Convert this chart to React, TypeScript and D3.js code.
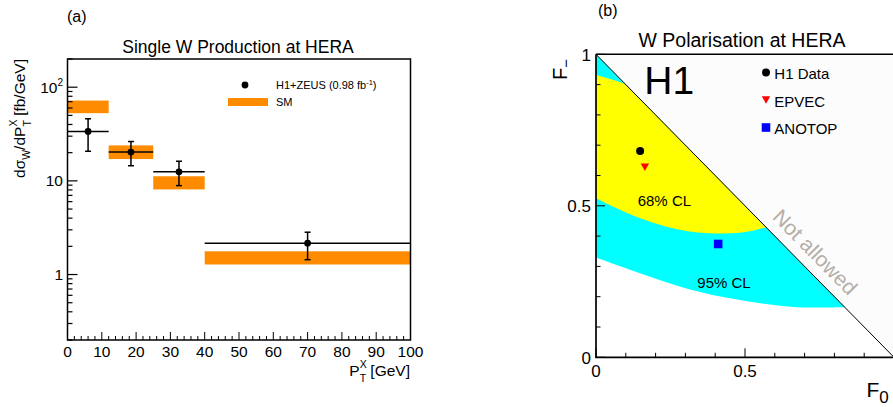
import React from 'react';
import * as d3 from 'd3';

// ---------- Panel (a): single W production ----------
const binLow = [0, 12, 25, 40];
const binHigh = [12, 25, 40, 100];
const binCentre = [6, 18.5, 32.5, 70];
const xsecData = [33.7, 20.3, 12.5, 2.16];
const xsecUp = [46, 26.3, 16.2, 2.83];
const xsecDown = [20.7, 14.5, 8.9, 1.44];
const smDown = [52.8, 17.1, 8.1, 1.28];
const smUp = [72, 23.9, 11.2, 1.77];
const ptMajorTicks = [0, 10, 20, 30, 40, 50, 60, 70, 80, 90, 100];
const xsecMajorTicks = [1, 10, 100];
const xsecTickLabels = ['1', '10', '10|2'];

// ---------- Panel (b): W polarisation ----------
const cl95F0 = [0, 0.148, 0.315, 0.483, 0.651, 0.83, 0.95];
const cl95Lower = [0.329, 0.277, 0.224, 0.189, 0.167, 0.165, 0.17];
const cl68F0 = [0, 0.148, 0.315, 0.483, 0.573, 0.65];
const cl68Lower = [0.525, 0.459, 0.415, 0.411, 0.43, 0.46];
const cl68Upper = [0.932, 0.885, 0.8, 0.68, 0.6, 0.52];
const pointNames = ['H1 Data', 'EPVEC', 'ANOTOP'];
const pointF0 = [0.148, 0.164, 0.41];
const pointFm = [0.681, 0.627, 0.374];
const fTicks = [0, 0.1, 0.2, 0.3, 0.4, 0.5, 0.6, 0.7, 0.8, 0.9, 1];
const fYTickLabels = [0, 0.5, 1];
const fXTickLabels = [0, 0.5];

const FONT = "'Liberation Sans', Arial, Helvetica, sans-serif";
const ORANGE = '#ff8c00';

function Marker({ kind, x, y }: { kind: number; x: number; y: number }) {
  if (kind === 0) return <circle cx={x} cy={y} r={4} fill="#000" />;
  if (kind === 1)
    return <path d={`M${x - 4.2},${y - 3.8} L${x + 4.2},${y - 3.8} L${x},${y + 3.8} Z`} fill="#ff0000" />;
  return <rect x={x - 4.3} y={y - 4.3} width={8.6} height={8.6} fill="#0000ff" />;
}

export default function App() {
  // panel (a) scales
  const xA = d3.scaleLinear().domain([0, 100]).range([67.5, 410.5]);
  const yA = d3.scaleLog().domain([0.2, 200]).range([340, 59]);
  const ptMinor = d3.range(0, 101, 2);
  const yMinor: number[] = [];
  [0.1, 1, 10, 100].forEach((dec) => {
    for (let k = 1; k <= 9; k++) {
      const v = k * dec;
      if (v >= 0.2 - 1e-9 && v <= 200 + 1e-9) yMinor.push(v);
    }
  });

  // panel (b) scales
  const xB = d3.scaleLinear().domain([0, 1]).range([596, 894]);
  const yB = d3.scaleLinear().domain([0, 1]).range([357.3, 54.3]);

  const cyanArea = d3
    .area<number>()
    .x((d) => xB(d))
    .y0((d, i) => yB(cl95Lower[i]))
    .y1(() => yB(1.05))
    .curve(d3.curveCatmullRom)(cl95F0) as string;
  const yellowArea = d3
    .area<number>()
    .x((d) => xB(d))
    .y0((d, i) => yB(cl68Lower[i]))
    .y1((d, i) => yB(cl68Upper[i]))
    .curve(d3.curveCatmullRom)(cl68F0) as string;

  const tri = `M${xB(0)},${yB(0)} L${xB(0)},${yB(1)} L${xB(1)},${yB(0)} Z`;
  const notAllowed = `M${xB(0)},${yB(1)} L${xB(1)},${yB(1)} L${xB(1)},${yB(0)} Z`;
  const diagAngle = (Math.atan2(yB(0) - yB(1), xB(1) - xB(0)) * 180) / Math.PI;
  const naX = xB(0.711) + 2;
  const naY = yB(0.289) - 12.5;

  return (
    <svg
      width={893}
      height={407}
      style={{ position: 'absolute', left: 0, top: 0, background: '#fff' }}
      fontFamily={FONT}
    >
      <rect x={0} y={0} width={893} height={407} fill="#fff" />
      {/* ================= Panel (a) ================= */}
      <text x={67} y={22} fontSize={16}>(a)</text>
      <text x={238} y={53.3} fontSize={17.5} textAnchor="middle">Single W Production at HERA</text>

      {/* SM bands */}
      {binLow.map((lo, i) => (
        <rect
          key={'sm' + i}
          x={xA(lo)}
          y={yA(smUp[i])}
          width={xA(binHigh[i]) - xA(lo)}
          height={yA(smDown[i]) - yA(smUp[i])}
          fill={ORANGE}
        />
      ))}
      {/* data */}
      {binCentre.map((c, i) => (
        <g key={'d' + i} stroke="#000" strokeWidth={1.5}>
          <line x1={xA(binLow[i])} x2={xA(binHigh[i])} y1={yA(xsecData[i])} y2={yA(xsecData[i])} />
          <line x1={xA(c)} x2={xA(c)} y1={yA(xsecUp[i])} y2={yA(xsecDown[i])} />
          <line x1={xA(c) - 3} x2={xA(c) + 3} y1={yA(xsecUp[i])} y2={yA(xsecUp[i])} />
          <line x1={xA(c) - 3} x2={xA(c) + 3} y1={yA(xsecDown[i])} y2={yA(xsecDown[i])} />
          <circle cx={xA(c)} cy={yA(xsecData[i])} r={3.4} fill="#000" stroke="none" />
        </g>
      ))}

      {/* axes ticks */}
      {ptMinor.map((v) => (
        <line
          key={'xt' + v}
          x1={xA(v)}
          x2={xA(v)}
          y1={340}
          y2={340 - (v % 10 === 0 ? 8 : 4)}
          stroke="#000"
          strokeWidth={1}
        />
      ))}
      {yMinor.map((v) => {
        const major = xsecMajorTicks.some((m) => Math.abs(m - v) < 1e-6);
        return (
          <line
            key={'yt' + v}
            x1={67.5}
            x2={67.5 + (major ? 10 : 5)}
            y1={yA(v)}
            y2={yA(v)}
            stroke="#000"
            strokeWidth={1.2}
          />
        );
      })}
      <rect x={67.5} y={59} width={343} height={281} fill="none" stroke="#000" strokeWidth={1.5} />

      {ptMajorTicks.map((v) => (
        <text key={'xl' + v} x={xA(v)} y={357} fontSize={15.5} textAnchor="middle">
          {v}
        </text>
      ))}
      {xsecMajorTicks.map((v, i) => {
        const [base, sup] = xsecTickLabels[i].split('|');
        return (
          <text key={'yl' + v} x={63} y={yA(v) + 5.5} fontSize={15.5} textAnchor="end">
            {base}
            {sup ? (
              <tspan fontSize={10} dy={-7}>
                {sup}
              </tspan>
            ) : null}
          </text>
        );
      })}

      {/* axis titles */}
      <text x={410} y={376} fontSize={15.5} textAnchor="end">
        P
        <tspan fontSize={10.5} dy={-8}>X</tspan>
        <tspan fontSize={10.5} dx={-7} dy={14}>T</tspan>
        <tspan dy={-6}> [GeV]</tspan>
      </text>
      <text transform="translate(25,59) rotate(-90)" fontSize={15.5} textAnchor="end">
        dσ
        <tspan fontSize={10.5} dy={5}>W</tspan>
        <tspan dy={-5}>/dP</tspan>
        <tspan fontSize={10.5} dy={-8}>X</tspan>
        <tspan fontSize={10.5} dx={-7} dy={14}>T</tspan>
        <tspan dy={-6}> [fb/GeV]</tspan>
      </text>

      {/* legend (a) */}
      <circle cx={245} cy={85} r={3.4} fill="#000" />
      <text x={276} y={89} fontSize={11}>
        H1+ZEUS (0.98 fb
        <tspan fontSize={7.5} dy={-4}>-1</tspan>
        <tspan dy={4}>)</tspan>
      </text>
      <rect x={228} y={98} width={40} height={8} fill={ORANGE} />
      <text x={276} y={106} fontSize={11}>SM</text>

      {/* ================= Panel (b) ================= */}
      <text x={598} y={15.5} fontSize={16}>(b)</text>
      <text x={742} y={46.7} fontSize={19.5} textAnchor="middle">W Polarisation at HERA</text>

      <path d={notAllowed} fill="#fcfcfc" />
      <defs>
        <clipPath id="physTri">
          <path d={tri} />
        </clipPath>
      </defs>
      <g clipPath="url(#physTri)">
        <path d={cyanArea} fill="#00ffff" />
        <path d={yellowArea} fill="#ffff00" />
      </g>
      <line x1={xB(0)} y1={yB(1)} x2={xB(1)} y2={yB(0)} stroke="#000" strokeWidth={1} />

      <text
        transform={`translate(${naX},${naY}) rotate(${diagAngle})`}
        fontSize={21}
        textAnchor="middle"
        fill="#b6aea6"
      >
        Not allowed
      </text>

      <text x={637.7} y={206} fontSize={15}>68% CL</text>
      <text x={697.3} y={287.7} fontSize={15}>95% CL</text>
      <text x={644.3} y={94} fontSize={39}>H1</text>

      {pointNames.map((n, i) => (
        <Marker key={'pm' + i} kind={i} x={xB(pointF0[i])} y={yB(pointFm[i])} />
      ))}

      {/* legend (b) */}
      {pointNames.map((n, i) => (
        <g key={'lg' + i}>
          <Marker kind={i} x={766} y={72.5 + i * 27.5} />
          <text x={774.3} y={79 + i * 27.7} fontSize={15}>
            {n}
          </text>
        </g>
      ))}

      {/* ticks (b) */}
      {fTicks.map((v, i) => {
        const major = i % 5 === 0;
        return (
          <g key={'ft' + i} stroke="#000" strokeWidth={1}>
            <line x1={xB(0)} x2={xB(0) + (major ? 9 : 4.5)} y1={yB(v)} y2={yB(v)} />
            <line x1={xB(v)} x2={xB(v)} y1={yB(0)} y2={yB(0) - (major ? 9 : 4.5)} />
          </g>
        );
      })}
      <line x1={xB(0)} x2={xB(1)} y1={yB(1)} y2={yB(1)} stroke="#000" strokeWidth={1.5} />
      <path d={`M${xB(0)},${yB(1)} V${yB(0)} H${xB(1)}`} fill="none" stroke="#000" strokeWidth={1.7} />

      {fYTickLabels.map((v) => (
        <text key={'fyl' + v} x={591} y={yB(v) + 6.5} fontSize={17} textAnchor="end">
          {v}
        </text>
      ))}
      {fXTickLabels.map((v) => (
        <text key={'fxl' + v} x={xB(v)} y={377} fontSize={17} textAnchor="middle">
          {v}
        </text>
      ))}

      <text transform="translate(567,80) rotate(-90)" fontSize={20}>
        F<tspan fontSize={15} dy={4}>−</tspan>
      </text>
      <text x={866.5} y={396.7} fontSize={21}>
        F<tspan fontSize={17} dy={6}>0</tspan>
      </text>
    </svg>
  );
}
